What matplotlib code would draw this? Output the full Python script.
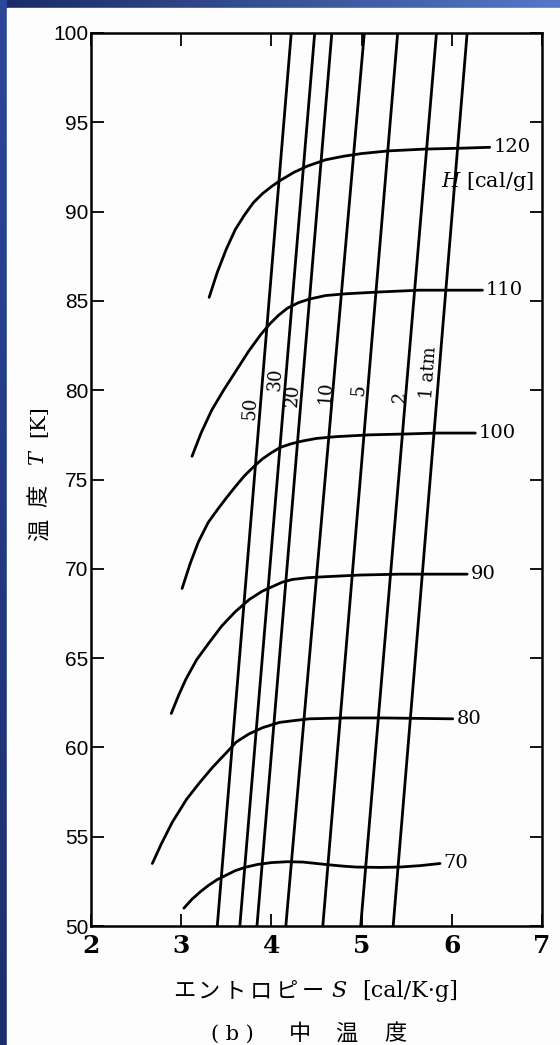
import numpy as np
import matplotlib.pyplot as plt
from matplotlib.patches import Rectangle

plt.rcParams['mathtext.fontset'] = 'dejavuserif'
SERIF = 'DejaVu Serif'
CJK = 'Noto Sans CJK JP'

# isobars (pressure lines): entropy S at T=50 K and at T=100 K
p_labels = ['50', '30', '20', '10', '5', '2', '1 atm']
p_s_at50 = [3.40, 3.65, 3.84, 4.16, 4.57, 4.99, 5.35]
p_s_at100 = [4.22, 4.48, 4.67, 5.03, 5.40, 5.83, 6.17]
p_t_ends = [50, 100]

# label spots for the isobars
p_lab_s = [3.77, 4.04, 4.24, 4.60, 4.97, 5.43, 5.74]
p_lab_t = [79.0, 80.6, 79.7, 79.9, 80.0, 79.6, 81.0]

# enthalpy curves H [cal/g]
h_labels = ['70', '80', '90', '100', '110', '120']
h70_s = [3.03, 3.12, 3.22, 3.31, 3.40, 3.50, 3.60, 3.72, 3.85, 4.00, 4.18, 4.35,
         4.50, 4.65, 4.80, 4.94, 5.20, 5.42, 5.65, 5.87]
h70_t = [51.0, 51.5, 51.95, 52.3, 52.6, 52.85, 53.1, 53.3, 53.45, 53.55, 53.6, 53.58,
         53.5, 53.42, 53.35, 53.3, 53.28, 53.3, 53.38, 53.5]
h80_s = [2.68, 2.78, 2.90, 3.06, 3.20, 3.35, 3.50, 3.61, 3.75, 3.90, 4.09, 4.25,
         4.42, 4.83, 5.23, 6.01]
h80_t = [53.5, 54.6, 55.8, 57.1, 58.0, 58.9, 59.7, 60.3, 60.75, 61.1, 61.4, 61.5,
         61.6, 61.65, 61.65, 61.6]
h90_s = [2.89, 2.97, 3.05, 3.17, 3.30, 3.45, 3.60, 3.76, 3.90, 4.01, 4.12, 4.23,
         4.40, 4.57, 4.98, 5.42, 6.17]
h90_t = [61.9, 62.9, 63.8, 64.9, 65.8, 66.8, 67.6, 68.3, 68.75, 69.0, 69.25, 69.4,
         69.5, 69.55, 69.65, 69.7, 69.7]
h100_s = [3.01, 3.10, 3.19, 3.30, 3.40, 3.49, 3.60, 3.70, 3.80, 3.90, 4.00, 4.10,
          4.22, 4.34, 4.50, 4.72, 5.09, 5.50, 5.83, 6.26]
h100_t = [68.9, 70.3, 71.5, 72.6, 73.3, 73.9, 74.6, 75.2, 75.7, 76.15, 76.5, 76.8,
          77.0, 77.15, 77.3, 77.4, 77.5, 77.55, 77.6, 77.6]
h110_s = [3.12, 3.22, 3.34, 3.47, 3.61, 3.75, 3.88, 3.98, 4.08, 4.18, 4.30, 4.42,
          4.60, 4.83, 5.20, 5.64, 6.34]
h110_t = [76.3, 77.6, 78.9, 80.0, 81.1, 82.2, 83.1, 83.7, 84.2, 84.6, 84.9, 85.1,
          85.3, 85.4, 85.5, 85.6, 85.6]
h120_s = [3.31, 3.40, 3.50, 3.60, 3.70, 3.80, 3.90, 4.00, 4.10, 4.25, 4.40, 4.60,
          4.80, 5.00, 5.30, 5.70, 6.10, 6.42]
h120_t = [85.2, 86.6, 87.9, 89.0, 89.8, 90.5, 91.0, 91.4, 91.75, 92.2, 92.55, 92.9,
          93.1, 93.25, 93.4, 93.5, 93.55, 93.6]
h_curves = [(h70_s, h70_t), (h80_s, h80_t), (h90_s, h90_t),
            (h100_s, h100_t), (h110_s, h110_t), (h120_s, h120_t)]

x_ticks = [2, 3, 4, 5, 6, 7]
y_ticks = [50, 55, 60, 65, 70, 75, 80, 85, 90, 95, 100]

W, H = 560, 1045
fig = plt.figure(figsize=(W / 100, H / 100), dpi=100)


def fx(px):
    return px / W


def fy(py):
    return 1 - py / H


# slide background: blue frame on left and top
bg = fig.add_axes([0, 0, 1, 1])
grad = np.linspace(0, 1, 256)
top_col = np.array([0.10, 0.17, 0.40])
right_col = np.array([0.33, 0.47, 0.78])
img = top_col + (right_col - top_col) * grad[None, :, None] * np.ones((2, 1, 1))
bg.imshow(img, extent=[0, 1, 0, 1], aspect='auto')
left_img = np.array([0.11, 0.18, 0.42]) + np.array([0.06, 0.10, 0.18]) * grad[::-1, None, None]
bg.imshow(left_img, extent=[0, fx(7), 0, 1], aspect='auto')
bg.add_patch(Rectangle((fx(7), 0), 1, fy(8), color='#fdfdfd', zorder=3))
bg.set_xlim(0, 1)
bg.set_ylim(0, 1)
bg.axis('off')

ax = fig.add_axes([fx(91), fy(926), fx(451), 893 / H])
ax.set_facecolor('none')

for s0, s1 in zip(p_s_at50, p_s_at100):
    ax.plot([s0, s1], p_t_ends, color='black', lw=2.0, solid_capstyle='butt')
for lab, s, t in zip(p_labels, p_lab_s, p_lab_t):
    ax.text(s, t, lab, rotation=86, ha='center', va='center',
            fontsize=13, family=SERIF)

for lab, (s, t) in zip(h_labels, h_curves):
    ax.plot(s, t, color='black', lw=2.0, solid_capstyle='round',
            solid_joinstyle='round')
    ax.text(s[-1] + 0.04, t[-1], lab, ha='left', va='center',
            fontsize=14, family=SERIF)
ax.text(6.39, 91.7, '$H$ [cal/g]', ha='center', va='center',
        fontsize=15, family=SERIF)

ax.set_xlim(2, 7)
ax.set_ylim(50, 100)
ax.set_xticks(x_ticks)
ax.set_yticks(y_ticks)
ax.tick_params(direction='in', length=9, width=1.3, top=True, right=True, pad=6)
ax.tick_params(axis='x', labelsize=18)
ax.tick_params(axis='y', labelsize=15, pad=2)
for lbl in ax.get_xticklabels():
    lbl.set_family(SERIF)
    lbl.set_fontweight('bold')
for lbl in ax.get_yticklabels():
    lbl.set_family('Liberation Sans')
for sp in ax.spines.values():
    sp.set_linewidth(1.8)

# x axis label, letter-spaced like the printed original
for ch, px in zip('エントロピー', [184, 209, 235, 261, 287, 313]):
    fig.text(fx(px), fy(991), ch, family=CJK, fontsize=16, ha='center', va='center')
fig.text(fx(339), fy(991), '$S$', family=SERIF, fontsize=16, ha='center', va='center')
fig.text(fx(410), fy(991), '[cal/K·g]', family=SERIF, fontsize=16, ha='center', va='center')

# y axis label, reading bottom to top
for txt, py, fam, sz in [('温', 530, CJK, 16), ('度', 496, CJK, 16),
                         ('$T$', 457, SERIF, 15), ('[K]', 421, SERIF, 15)]:
    fig.text(fx(39), fy(py), txt, family=fam, fontsize=sz, rotation=90,
             ha='center', va='center')

# caption
for txt, px, sz in [('( b )', 232, 15), ('中', 300, 16), ('温', 346, 16), ('度', 395, 16)]:
    fig.text(fx(px), fy(1034), txt, family=[SERIF, CJK], fontsize=sz,
             ha='center', va='center')

fig.savefig('out.png', dpi=100)
